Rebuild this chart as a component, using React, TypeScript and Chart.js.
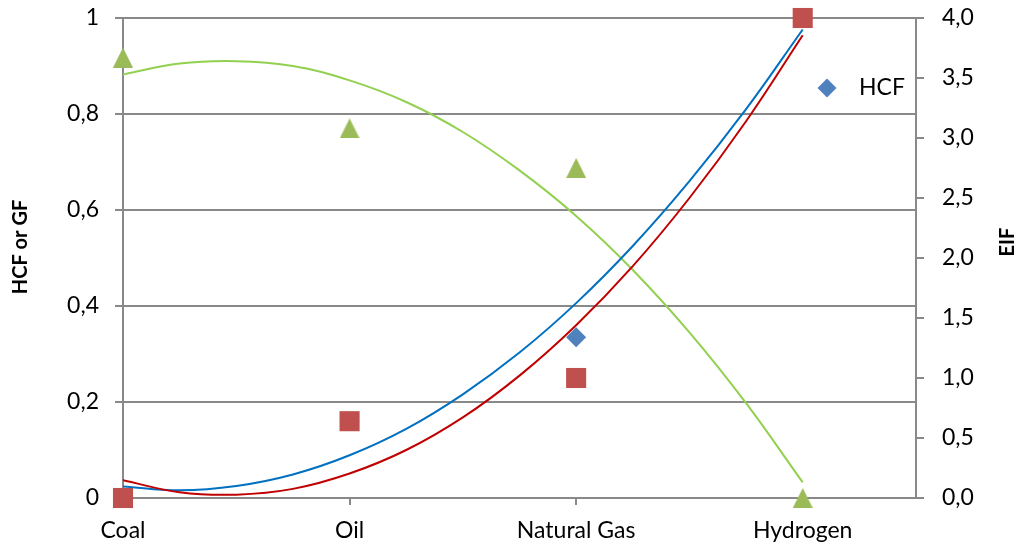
import React, { useEffect, useRef } from "react";
import { Chart, registerables } from "chart.js";

Chart.register(...registerables);

// Categories on the horizontal axis and their positions
const categories = ["Coal", "Oil", "Natural Gas", "Hydrogen"];
const categoryPositions = [0, 1, 2, 3];

// Marker series
const hcfValues = [0, 0.16, 0.335, 1];
const gfValues = [0, 0.16, 0.25, 1];
const eifValues = [3.67, 3.08, 2.75, 0];

// Trend lines
const trendX = [0, 0.25, 0.5, 0.75, 1, 1.25, 1.5, 1.75, 2, 2.25, 2.5, 2.75, 3];
const hcfTrend = [0.024, 0.016, 0.025, 0.049, 0.089, 0.144, 0.216, 0.303, 0.406, 0.525, 0.66, 0.81, 0.976];
const gfTrend = [0.037, 0.012, 0.007, 0.019, 0.051, 0.1, 0.168, 0.255, 0.36, 0.483, 0.625, 0.785, 0.964];
const eifTrend = [3.53, 3.62, 3.64, 3.6, 3.48, 3.3, 3.05, 2.73, 2.35, 1.9, 1.38, 0.79, 0.13];

// Axis tick values
const leftTicks = [0, 0.2, 0.4, 0.6, 0.8, 1];
const rightTicks = [0, 0.5, 1, 1.5, 2, 2.5, 3, 3.5, 4];

const FONT = "Lato, 'Open Sans', sans-serif";
const GRID = "#898989";
const TICK_SIZE = 23;

function makeTriangle(color: string, size: number) {
  const c = document.createElement("canvas");
  c.width = size;
  c.height = size;
  const ctx = c.getContext("2d")!;
  ctx.fillStyle = color;
  ctx.beginPath();
  ctx.moveTo(size / 2, 0);
  ctx.lineTo(size, size);
  ctx.lineTo(0, size);
  ctx.closePath();
  ctx.fill();
  return c;
}

const fmtComma = (v: number, digits: number) => v.toFixed(digits).replace(".", ",");

const fixSize = (w: number | null, h: number | null) => (s: any) => {
  if (w !== null) s.width = w;
  if (h !== null) s.height = h;
  s.paddingTop = 0;
  s.paddingBottom = 0;
  s.paddingLeft = 0;
  s.paddingRight = 0;
};

export default function App() {
  const ref = useRef<HTMLCanvasElement | null>(null);

  useEffect(() => {
    const canvas = ref.current;
    if (!canvas) return;
    const tri = makeTriangle("#9BBB59", 20);

    const overlay = {
      id: "overlay",
      afterDraw(chart: any) {
        const ctx = chart.ctx as CanvasRenderingContext2D;
        ctx.save();
        // legend entry
        const lx = 827, ly = 88, r = 9.5;
        ctx.fillStyle = "#4F81BD";
        ctx.beginPath();
        ctx.moveTo(lx - r, ly);
        ctx.lineTo(lx, ly - r);
        ctx.lineTo(lx + r, ly);
        ctx.lineTo(lx, ly + r);
        ctx.closePath();
        ctx.fill();
        ctx.fillStyle = "#000";
        ctx.font = `${TICK_SIZE}px ${FONT}`;
        ctx.textAlign = "left";
        ctx.textBaseline = "middle";
        ctx.fillText("HCF", 859, ly);
        // axis titles
        ctx.font = `bold 20px ${FONT}`;
        ctx.textAlign = "center";
        ctx.save();
        ctx.translate(21, 247);
        ctx.rotate(-Math.PI / 2);
        ctx.fillText("HCF or GF", 0, 0);
        ctx.restore();
        ctx.save();
        ctx.translate(1008, 242);
        ctx.rotate(-Math.PI / 2);
        ctx.fillText("EIF", 0, 0);
        ctx.restore();
        ctx.restore();
      },
    };

    const pts = (xs: number[], ys: number[]) => xs.map((x, i) => ({ x, y: ys[i] }));

    const chart = new Chart(canvas, {
      type: "scatter",
      data: {
        datasets: [
          {
            label: "GF",
            data: pts(categoryPositions, gfValues),
            yAxisID: "y",
            pointStyle: "rect",
            pointRadius: 14.2,
            pointHoverRadius: 14.2,
            pointBorderWidth: 0,
            backgroundColor: "#C0504D",
            borderColor: "#C0504D",
            clip: false as any,
            order: 1,
          },
          {
            label: "HCF",
            data: pts(categoryPositions, hcfValues),
            yAxisID: "y",
            pointStyle: "rectRot",
            pointRadius: 10,
            pointHoverRadius: 10,
            pointBorderWidth: 0,
            backgroundColor: "#4F81BD",
            borderColor: "#4F81BD",
            clip: false as any,
            order: 2,
          },
          {
            label: "EIF",
            data: pts(categoryPositions, eifValues),
            yAxisID: "y1",
            pointStyle: tri as any,
            pointRadius: 10,
            pointBorderWidth: 0,
            backgroundColor: "#9BBB59",
            borderColor: "#9BBB59",
            clip: false as any,
            order: 3,
          },
          {
            label: "HCF trend",
            data: pts(trendX, hcfTrend),
            yAxisID: "y",
            showLine: true,
            pointRadius: 0,
            borderColor: "#0070C0",
            borderWidth: 2,
            tension: 0.4,
            order: 6,
          },
          {
            label: "GF trend",
            data: pts(trendX, gfTrend),
            yAxisID: "y",
            showLine: true,
            pointRadius: 0,
            borderColor: "#C00000",
            borderWidth: 2,
            tension: 0.4,
            order: 5,
          },
          {
            label: "EIF trend",
            data: pts(trendX, eifTrend),
            yAxisID: "y1",
            showLine: true,
            pointRadius: 0,
            borderColor: "#92D050",
            borderWidth: 2,
            tension: 0.4,
            order: 7,
          },
        ],
      },
      options: {
        responsive: false,
        animation: false,
        layout: { padding: { top: 18, left: 0, right: 0, bottom: 0 } },
        plugins: { legend: { display: false }, tooltip: { enabled: false } },
        scales: {
          x: {
            type: "linear",
            position: "bottom",
            min: 0,
            max: 3.5,
            afterBuildTicks: (s: any) => {
              s.ticks = categoryPositions.map((v) => ({ value: v }));
            },
            afterFit: fixSize(null, 49),
            ticks: {
              autoSkip: false,
              maxRotation: 0,
              padding: 12,
              color: "#000",
              font: { family: FONT, size: TICK_SIZE },
              callback: (v: any) => {
                const i = categoryPositions.indexOf(Number(v));
                return i >= 0 ? categories[i] : "";
              },
            },
            grid: { drawOnChartArea: false, drawTicks: true, tickLength: 7, color: GRID, lineWidth: 2 },
            border: { display: true, color: GRID, width: 2 },
          },
          y: {
            type: "linear",
            position: "left",
            min: 0,
            max: 1,
            afterBuildTicks: (s: any) => {
              s.ticks = leftTicks.map((v) => ({ value: v }));
            },
            afterFit: fixSize(123, null),
            ticks: {
              padding: 16,
              color: "#000",
              font: { family: FONT, size: TICK_SIZE },
              callback: (v: any) => {
                const n = Number(v);
                return n === 0 || n === 1 ? String(n) : fmtComma(n, 1);
              },
            },
            grid: { drawOnChartArea: true, drawTicks: true, tickLength: 8, color: GRID, lineWidth: 2 },
            border: { display: true, color: GRID, width: 2 },
          },
          y1: {
            type: "linear",
            position: "right",
            min: 0,
            max: 4,
            afterBuildTicks: (s: any) => {
              s.ticks = rightTicks.map((v) => ({ value: v }));
            },
            afterFit: fixSize(105, null),
            ticks: {
              padding: 18,
              color: "#000",
              font: { family: FONT, size: TICK_SIZE },
              callback: (v: any) => fmtComma(Number(v), 1),
            },
            grid: { drawOnChartArea: false, drawTicks: true, tickLength: 8, color: GRID, lineWidth: 2 },
            border: { display: true, color: GRID, width: 2 },
          },
        },
      },
      plugins: [overlay],
    } as any);

    return () => chart.destroy();
  }, []);

  return (
    <div style={{ position: "fixed", left: 0, top: 0, width: 1021, height: 547, background: "#fff" }}>
      <canvas ref={ref} width={1021} height={547} style={{ display: "block" }} />
    </div>
  );
}
